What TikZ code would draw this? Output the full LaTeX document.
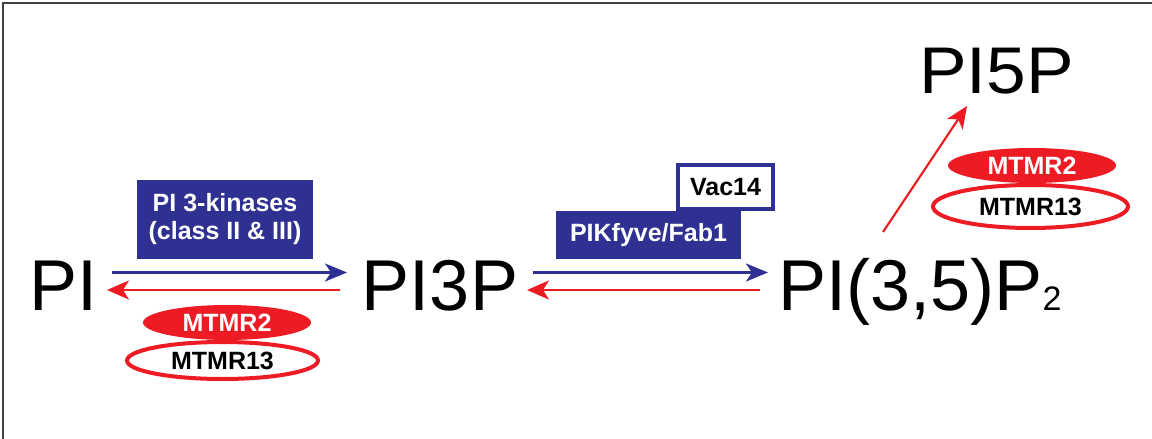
\documentclass[tikz,border=0pt]{standalone}
\usepackage{fontspec}
\setmainfont{Liberation Sans}
\usetikzlibrary{arrows.meta,shapes.geometric}
\definecolor{navy}{HTML}{2E3192}
\definecolor{pired}{HTML}{ED1C24}
\tikzset{
  lipid/.style={inner sep=0pt, anchor=base, font=\fontsize{72}{72}\selectfont},
  kinbox/.style={fill=navy, text=white, inner sep=0pt, align=center,
     font=\bfseries\fontsize{25}{28}\selectfont},
  subbox/.style={draw=navy, line width=4pt, fill=white, text=black, inner sep=0pt,
     font=\bfseries\fontsize{25}{28}\selectfont},
  redfill/.style={ellipse, fill=pired, text=white, inner sep=0pt,
     font=\bfseries\fontsize{25}{28}\selectfont},
  redring/.style={ellipse, draw=pired, line width=4pt, fill=white, text=black, inner sep=0pt,
     font=\bfseries\fontsize{25}{28}\selectfont},
  fwd/.style={draw=navy, line width=2.6pt, -{Stealth[length=22pt,width=18pt,inset=6pt]}},
  rev/.style={draw=pired, line width=2.6pt, -{Stealth[length=22pt,width=19pt,inset=6pt]}},
  frame/.style={draw=black!75, line width=1.5pt}
}
\begin{document}
\begin{tikzpicture}[x=1pt,y=-1pt]
\useasboundingbox (0,0) rectangle (1152,439);
\coordinate (fa) at (3,439);
\coordinate (fb) at (3,3);
\coordinate (fc) at (1152,3);
\draw[frame] (fa) -- (fb) -- (fc);

% lipids
\node[lipid] (PI) at (63.5,310) {PI};
\node[lipid] (PI3P) at (440,310) {PI3P};
\node[lipid] (PI35P2) at (920,310) {PI(3,5)P{\fontsize{34}{34}\selectfont 2}};
\node[lipid, font=\fontsize{66}{66}\selectfont, xscale=1.08] (PI5P) at (996.5,93) {PI5P};

% enzymes
\node[kinbox, minimum width=176pt, minimum height=79pt] (K3) at (225,219.5) {PI 3-kinases\\(class II \& III)};
\node[subbox, minimum width=95pt, minimum height=44pt] (Vac) at (725.5,187) {Vac14};
\node[kinbox, minimum width=185pt, minimum height=48pt] (Fab) at (648.5,235) {PIKfyve/Fab1};

\node[redring, minimum width=191pt, minimum height=37pt] (M13a) at (222.5,360.5) {MTMR13};
\node[redfill, minimum width=168pt, minimum height=35pt] (M2a) at (227,322.5) {MTMR2};
\node[redring, minimum width=195pt, minimum height=43pt] (M13b) at (1030.5,206.5) {MTMR13};
\node[redfill, minimum width=168pt, minimum height=35pt] (M2b) at (1032,165.5) {MTMR2};

% arrow ends
\coordinate (b1s) at (112,272.5);
\coordinate (b1e) at (347,272.5);
\coordinate (r1s) at (340,290);
\coordinate (r1e) at (107,290);
\coordinate (b2s) at (533,272.5);
\coordinate (b2e) at (768,272.5);
\coordinate (r2s) at (760,290);
\coordinate (r2e) at (527,290);
\coordinate (ds) at (883,232);
\coordinate (de) at (967,106);

\draw[fwd] (b1s) -- (b1e);
\draw[rev] (r1s) -- (r1e);
\draw[fwd] (b2s) -- (b2e);
\draw[rev] (r2s) -- (r2e);
\draw[rev, line width=2.2pt] (ds) -- (de);
\end{tikzpicture}
\end{document}
